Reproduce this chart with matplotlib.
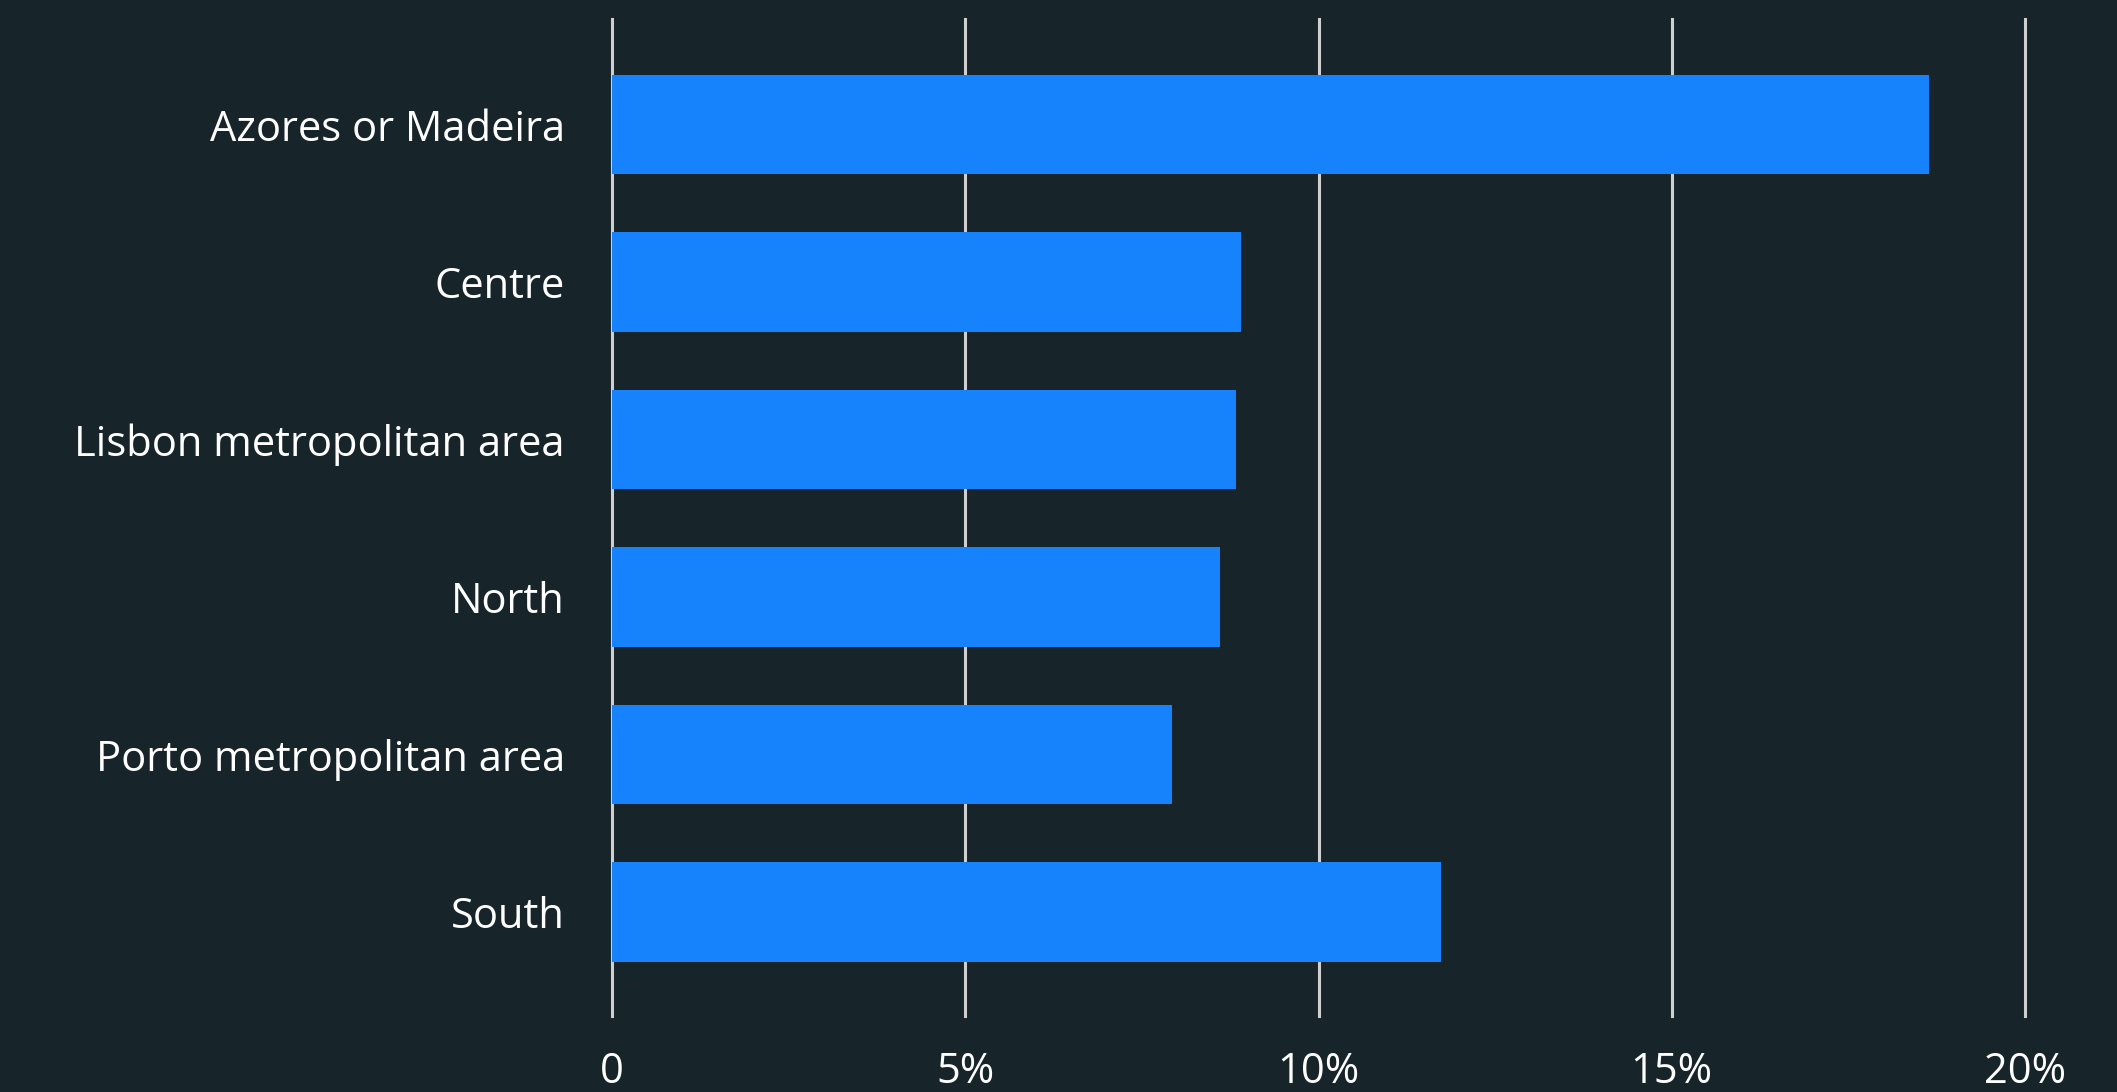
import matplotlib
matplotlib.use("Agg")
import matplotlib.pyplot as plt

categories = ["Azores or Madeira", "Centre", "Lisbon metropolitan area",
              "North", "Porto metropolitan area", "South"]
values = [18.64, 8.91, 8.83, 8.60, 7.92, 11.73]
xticks = [0, 5, 10, 15, 20]
xtick_labels = ["0", "5%", "10%", "15%", "20%"]

BG = "#17252b"
BAR = "#1682fb"
GRID = "#cfcfcf"

plt.rcParams['font.family'] = ['Open Sans', 'DejaVu Sans']

W, H = 2117, 1092
fig = plt.figure(figsize=(W / 100, H / 100), dpi=100, facecolor=BG)
left, right = 612 / W, 2025 / W
top, bottom = 1 - 19 / H, 1 - 1016 / H
ax = fig.add_axes([left, bottom, right - left, top - bottom], facecolor=BG)

y = list(range(len(categories)))
ax.barh(y, values, height=0.63, color=BAR, zorder=3)
ax.set_xlim(0, 20)
ax.set_ylim(5.66, -0.67)
ax.set_yticks(y)
ax.set_yticklabels(categories)
ax.set_xticks(xticks)
ax.set_xticklabels(xtick_labels)

for xv in xticks:
    ax.axvline(xv, color=GRID, lw=2.2, zorder=1, clip_on=False)

for s in ax.spines.values():
    s.set_visible(False)
ax.tick_params(axis='y', length=0, pad=34, labelsize=30, labelcolor='white')
ax.tick_params(axis='x', length=0, pad=25, labelsize=30, labelcolor='white')

fig.savefig("out.png", dpi=100, facecolor=BG)
